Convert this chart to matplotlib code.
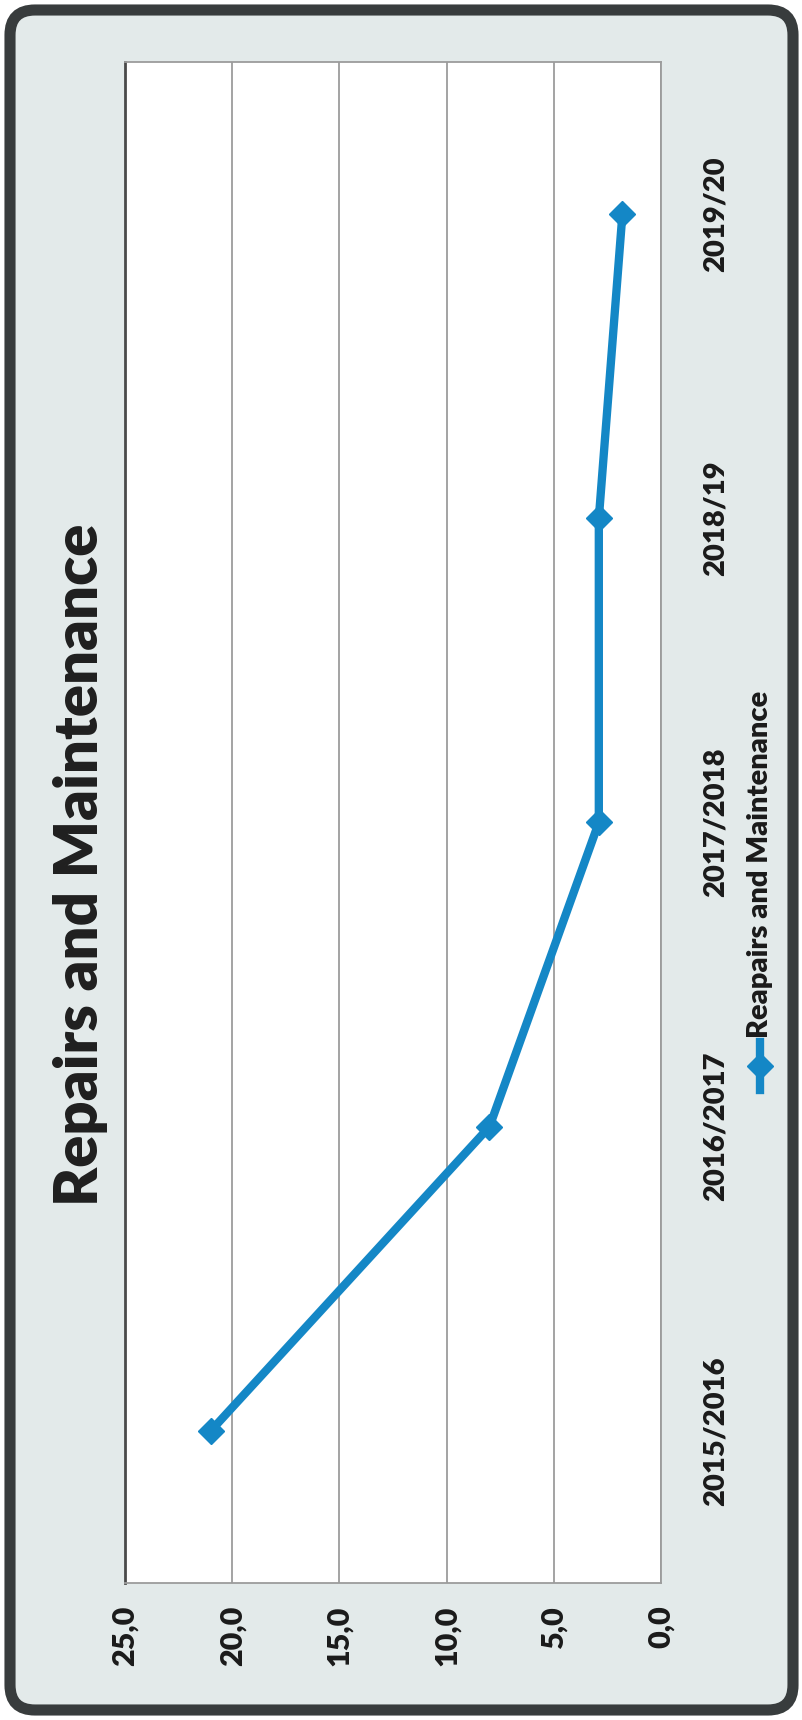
import matplotlib
matplotlib.use('Agg')
import matplotlib.pyplot as plt
from matplotlib.patches import FancyBboxPatch
from matplotlib.lines import Line2D

# repairs and maintenance spend per financial year
years = ['2015/2016', '2016/2017', '2017/2018', '2018/19', '2019/20']
repairs = [21.0, 8.0, 2.9, 2.9, 1.8]
value_ticks = [0, 5, 10, 15, 20, 25]
series_name = 'Reapairs and Maintenance'
title = 'Repairs and Maintenance'

plt.rcParams['font.family'] = ['Lato', 'DejaVu Sans']
plt.rcParams['font.weight'] = 'heavy'

W, H = 803, 1720
BLUE = '#1487c6'
GRID = '#9c9c9c'
INK = '#1a1a1a'

fig = plt.figure(figsize=(W / 100, H / 100), dpi=100)
fig.patch.set_facecolor('white')

# dark rounded frame round the whole chart
frame = FancyBboxPatch((0.10, 0.10), W / 100 - 0.2, H / 100 - 0.2,
                       boxstyle='round,pad=0,rounding_size=0.25',
                       transform=fig.dpi_scale_trans, zorder=-10,
                       facecolor='#e3eaea', edgecolor='#383c3d', linewidth=8)
fig.patches.append(frame)

# chart is laid out sideways: values run right-to-left, years bottom-to-top
ax = fig.add_axes([125 / W, 1 - 1583 / H, (661 - 125) / W, (1583 - 62) / H])
ax.set_facecolor('white')
idx = list(range(len(years)))
ax.plot(repairs, idx, color=BLUE, lw=6, marker='D', ms=13,
        solid_joinstyle='round', zorder=3)

ax.set_xlim(25, 0)
ax.set_ylim(-0.5, len(years) - 0.5)
ax.set_xticks(value_ticks)
ax.set_xticklabels([f'{v:.1f}'.replace('.', ',') for v in value_ticks],
                   rotation=90, fontsize=22, fontweight='heavy', color=INK)
ax.xaxis.grid(True, color=GRID, lw=1.3)
ax.set_axisbelow(True)
ax.tick_params(axis='x', length=0, pad=16)

ax.yaxis.tick_right()
ax.set_yticks(idx)
ax.set_yticklabels(years, rotation=90, va='center', fontsize=21,
                   fontweight='heavy', color=INK)
ax.tick_params(axis='y', length=0, pad=30)

for s in ax.spines.values():
    s.set_color(GRID)
    s.set_linewidth(1.3)
ax.spines['left'].set_color('#4a4a4a')
ax.spines['left'].set_linewidth(2)

fig.text(81 / W, 1 - 865 / H, title, rotation=90, ha='center', va='center',
         fontsize=43, fontweight='heavy', color='#1f1f1f')

# legend, drawn sideways like the rest
lx = 760 / W
fig.lines.append(Line2D([lx, lx], [1 - 1090 / H, 1 - 1042 / H], color=BLUE,
                        lw=6, transform=fig.transFigure))
fig.lines.append(Line2D([lx], [1 - 1066 / H], color=BLUE, marker='D', ms=13,
                        transform=fig.transFigure))
fig.text(lx, 1 - 1038 / H, series_name, rotation=90, ha='center', va='bottom',
         fontsize=21, fontweight='heavy', color=INK)

fig.savefig('out.png', dpi=100)
